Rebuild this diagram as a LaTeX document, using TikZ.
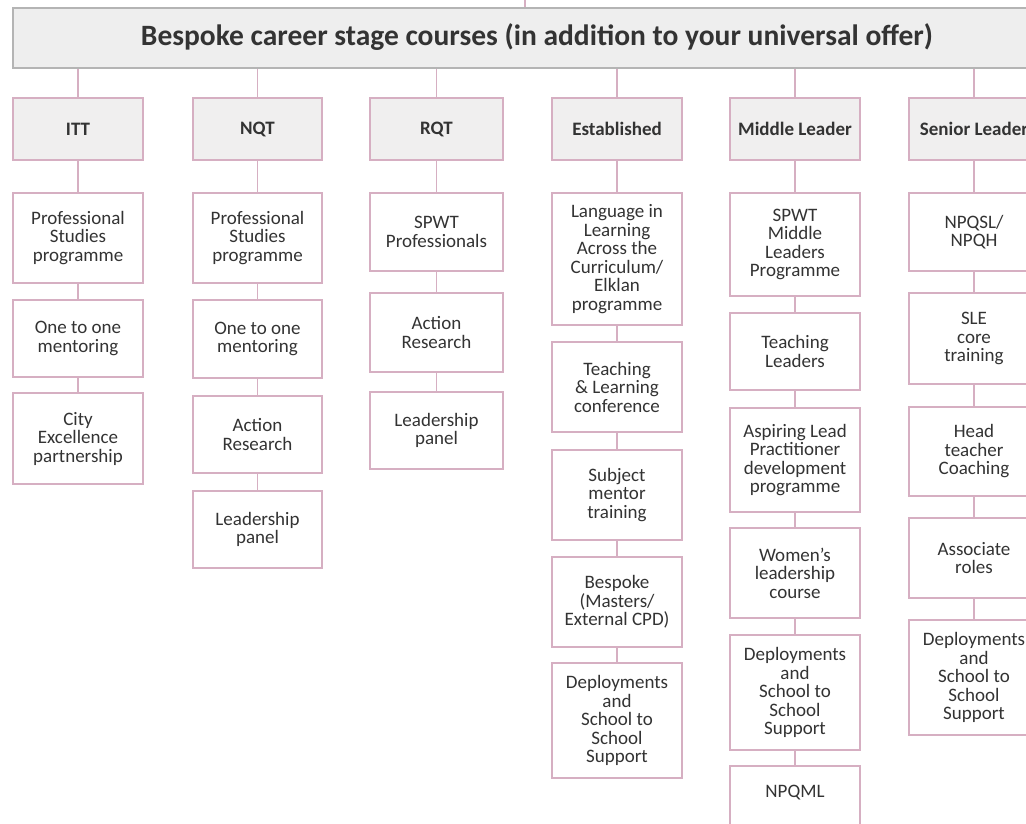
\documentclass[tikz,border=0pt]{standalone}
\usepackage{fontspec}
\setmainfont{Carlito}
\definecolor{boxpink}{HTML}{D6AFC2}
\definecolor{headgray}{HTML}{B4B4B4}
\definecolor{headfill}{HTML}{EEEEEE}
\definecolor{stagefill}{HTML}{F0EFEF}
\definecolor{txt}{HTML}{333333}
\tikzset{
  cbox/.style={draw=boxpink, line width=1.6pt, fill=white, inner sep=0pt, align=center, text=txt,
    font=\fontsize{19}{18.5}\selectfont},
  stagebox/.style={cbox, fill=stagefill, font=\bfseries\fontsize{19}{19}\selectfont},
  conn/.style={draw=boxpink, line width=1.6pt},
}
\newcommand\mkbox[7][cbox]{%
  \node[#1, minimum width={(#4-#2)*1pt}, minimum height={(#5-#3)*1pt}] (#7) at ({(#2+#4)/2},{(#3+#5)/2}) {#6};}
\begin{document}
\begin{tikzpicture}[x=1pt,y=-1pt]
\useasboundingbox (0,0) rectangle (1026,823);
\clip (0,0) rectangle (1026,823);
\fill[white] (0,0) rectangle (1026,823);
% header
\node[draw=headgray, fill=headfill, line width=1.6pt, inner sep=0pt, minimum width=1027pt, minimum height=60pt] (head) at (526.5,38) {};
\node[text=txt, font=\bfseries\fontsize{29.5}{31}\selectfont, anchor=center] (title) at (537,37) {Bespoke career stage courses (in addition to your universal offer)};
\coordinate (top) at (525,0);
\draw[draw=boxpink, line width=1.6pt] (top) -- (head.north -| top);
% stage boxes
\mkbox[stagebox]{13}{98}{143}{160}{ITT}{itt}
\mkbox[stagebox]{193}{98}{322}{160}{NQT}{nqt}
\mkbox[stagebox]{370}{98}{503}{160}{RQT}{rqt}
\mkbox[stagebox]{552}{98}{682}{160}{Established}{est}
\mkbox[stagebox]{730}{98}{860}{160}{Middle Leader}{mid}
\mkbox[stagebox]{909}{98}{1039}{160}{Senior Leader}{sen}
\foreach \s in {itt,nqt,rqt,est,mid,sen}{\draw[conn] (head.south -| \s.north) -- (\s.north);}
% ITT
\mkbox{13}{193}{143}{283}{Professional\\Studies\\programme}{itt1}
\mkbox{13}{300}{143}{377}{One to one\\mentoring}{itt2}
\mkbox{13}{393}{143}{484}{City\\Excellence\\partnership}{itt3}
% NQT
\mkbox{193}{193}{322}{283}{Professional\\Studies\\programme}{nqt1}
\mkbox{193}{300}{322}{378}{One to one\\mentoring}{nqt2}
\mkbox{193}{396}{322}{473}{Action\\Research}{nqt3}
\mkbox{193}{491}{322}{568}{Leadership\\panel}{nqt4}
% RQT
\mkbox{370}{193}{503}{271}{SPWT\\Professionals}{rqt1}
\mkbox{370}{293}{503}{372}{Action\\Research}{rqt2}
\mkbox{370}{392}{503}{469}{Leadership\\panel}{rqt3}
% Established
\mkbox{552}{193}{682}{325}{Language in\\Learning\\Across the\\Curriculum/\\Elklan\\programme}{est1}
\mkbox{552}{342}{682}{432}{Teaching\\\& Learning\\conference}{est2}
\mkbox{552}{450}{682}{540}{Subject\\mentor\\training}{est3}
\mkbox{552}{557}{682}{647}{Bespoke\\(Masters/\\External CPD)}{est4}
\mkbox{552}{663}{682}{778}{Deployments\\and\\School to\\School\\Support}{est5}
% Middle Leader
\mkbox{730}{193}{860}{296}{SPWT\\Middle\\Leaders\\Programme}{mid1}
\mkbox{730}{313}{860}{390}{Teaching\\Leaders}{mid2}
\mkbox{730}{408}{860}{512}{Aspiring Lead\\Practitioner\\development\\programme}{mid3}
\mkbox{730}{528}{860}{618}{Women's\\leadership\\course}{mid4}
\mkbox{730}{635}{860}{750}{Deployments\\and\\School to\\School\\Support}{mid5}
\mkbox{730}{766}{860}{876}{}{mid6}
\node[text=txt, font=\fontsize{19}{18.5}\selectfont] (npqml) at (795,793) {NPQML};
% Senior Leader
\mkbox{909}{193}{1039}{271}{NPQSL/\\NPQH}{sen1}
\mkbox{909}{293}{1039}{384}{SLE\\core\\training}{sen2}
\mkbox{909}{407}{1039}{496}{Head\\teacher\\Coaching}{sen3}
\mkbox{909}{518}{1039}{598}{Associate\\roles}{sen4}
\mkbox{909}{620}{1039}{735}{Deployments\\and\\School to\\School\\Support}{sen5}
% connectors
\foreach \a/\b in {itt/itt1,itt1/itt2,itt2/itt3,
  nqt/nqt1,nqt1/nqt2,nqt2/nqt3,nqt3/nqt4,
  rqt/rqt1,rqt1/rqt2,rqt2/rqt3,
  est/est1,est1/est2,est2/est3,est3/est4,est4/est5,
  mid/mid1,mid1/mid2,mid2/mid3,mid3/mid4,mid4/mid5,mid5/mid6,
  sen/sen1,sen1/sen2,sen2/sen3,sen3/sen4,sen4/sen5}
  {\draw[conn] (\a.south) -- (\b.north);}
\end{tikzpicture}
\end{document}
